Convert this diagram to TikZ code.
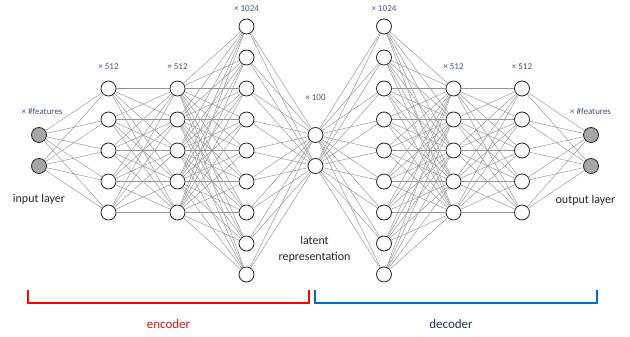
\documentclass[tikz,border=0pt]{standalone}
\usepackage{fontspec}
\setmainfont{Carlito}
\definecolor{lblcol}{RGB}{68,84,120}
\definecolor{encred}{RGB}{255,0,0}
\definecolor{enctext}{RGB}{215,20,20}
\definecolor{decblue}{RGB}{0,112,192}
\definecolor{dectext}{RGB}{31,56,110}
\begin{document}
\begin{tikzpicture}[x=1pt,y=-1pt,
 neuron/.style={circle,draw=black!85,line width=0.8pt,fill=white,minimum size=15pt,inner sep=0pt},
 ionode/.style={neuron,fill=black!35},
 edge/.style={draw=black!42,line width=0.45pt},
 countlbl/.style={font=\fontsize{9}{10}\selectfont,text=lblcol,inner sep=0pt},
 caption/.style={font=\fontsize{12}{15.5}\selectfont,text=black!85,inner sep=0pt,align=center},
 bracket/.style={line width=2.2pt,line join=miter},
 parttext/.style={font=\fontsize{13}{15}\selectfont,inner sep=0pt}
]
\path[use as bounding box] (0,0) rectangle (630,337);
% hidden layers
\foreach \l/\x/\n in {1/108.5/5,2/177.5/5,3/246.5/9,4/315.5/2,5/384/9,6/453.5/5,7/522/5}{
  \foreach \i in {1,...,\n}{
    \node[neuron] (L\l-\i) at (\x,{150.5+(\i-(\n+1)/2)*31}) {};
  }
}
% input / output layers
\foreach \l/\x in {0/39,8/591}{
  \foreach \i in {1,2}{
    \node[ionode] (L\l-\i) at (\x,{150.5+(\i-1.5)*31}) {};
  }
}
% connections
\foreach \l/\n/\m in {0/2/5,1/5/5,2/5/9,3/9/2,4/2/9,5/9/5,6/5/5,7/5/2}{
  \pgfmathtruncatemacro\k{\l+1}
  \foreach \i in {1,...,\n}{
    \foreach \j in {1,...,\m}{
      \draw[edge] (L\l-\i) -- (L\k-\j);
    }
  }
}
% counts
\node[countlbl] (c0) at (42,111) {× \#features};
\node[countlbl] (c1) at (108.5,67) {× 512};
\node[countlbl] (c2) at (177.5,67) {× 512};
\node[countlbl] (c3) at (246.5,9) {× 1024};
\node[countlbl] (c4) at (315.5,98) {× 100};
\node[countlbl] (c5) at (384,9) {× 1024};
\node[countlbl] (c6) at (453.5,67) {× 512};
\node[countlbl] (c7) at (522,67) {× 512};
\node[countlbl] (c8) at (590.5,111) {× \#features};
% captions
\node[caption] (inlbl) at (39,199.5) {input layer};
\node[caption] (outlbl) at (585.5,200) {output layer};
\node[caption] (latlbl) at (314.5,249.5) {latent\\representation};
% brackets
\coordinate (eA) at (28,290);
\coordinate (eB) at (309,290);
\coordinate (dA) at (315,290);
\coordinate (dB) at (597,290);
\draw[bracket,encred] (eA) -- ++(0,13) -| (eB);
\draw[bracket,decblue] (dA) -- ++(0,13) -| (dB);
\node[parttext,text=enctext] (enc) at (168.5,324) {encoder};
\node[parttext,text=dectext] (dec) at (451,324) {decoder};
\end{tikzpicture}
\end{document}
